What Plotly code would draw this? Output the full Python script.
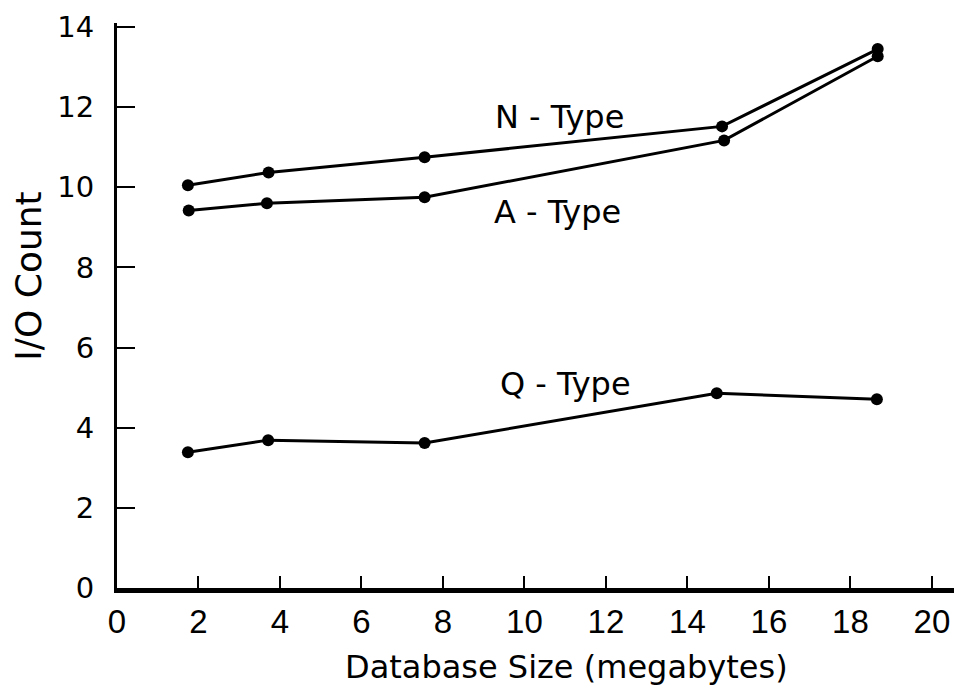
import plotly.graph_objects as go

# Database size (megabytes)
n_x = [1.74, 3.72, 7.55, 14.85, 18.67]
n_y = [10.05, 10.37, 10.75, 11.52, 13.45]
a_x = [1.76, 3.68, 7.55, 14.9, 18.67]
a_y = [9.42, 9.6, 9.75, 11.17, 13.27]
q_x = [1.74, 3.71, 7.55, 14.72, 18.65]
q_y = [3.39, 3.69, 3.62, 4.86, 4.71]

labels = ["N - Type", "A - Type", "Q - Type"]
label_x = [10.85, 10.8, 11.0]
label_y = [11.75, 9.38, 5.1]

x_title = "Database Size (megabytes)"
y_title = "I/O Count"

x_ticks = list(range(0, 21, 2))
y_ticks = list(range(0, 15, 2))

FONT = "DejaVu Sans, Liberation Sans, Arial"

fig = go.Figure()
for xs, ys, name in [(n_x, n_y, labels[0]), (a_x, a_y, labels[1]), (q_x, q_y, labels[2])]:
    fig.add_trace(go.Scatter(
        x=xs, y=ys, mode="lines+markers", name=name,
        line=dict(color="black", width=3),
        marker=dict(color="black", size=12),
        showlegend=False,
    ))

for t, lx, ly in zip(labels, label_x, label_y):
    fig.add_annotation(x=lx, y=ly, text=t, showarrow=False,
                       font=dict(family=FONT, size=32, color="black"))

# axis titles placed as in the original (offset from the plot centre)
fig.add_annotation(xref="paper", yref="paper", x=0.533, y=-0.14,
                   xanchor="center", yanchor="middle", text=x_title, showarrow=False,
                   font=dict(family=FONT, size=32, color="black"))
fig.add_annotation(xref="paper", yref="paper", x=-0.106, y=0.552,
                   xanchor="center", yanchor="middle", text=y_title, showarrow=False,
                   textangle=-90, font=dict(family=FONT, size=36, color="black"))

# page body has an 8px default margin; figure sized to fit the 962x696 window
fig.update_layout(
    width=954, height=688,
    margin=dict(l=109, r=2, t=15, b=108),
    plot_bgcolor="white", paper_bgcolor="white",
    font=dict(family=FONT, color="black"),
)
fig.update_xaxes(
    range=[0, 20.69], tickvals=x_ticks, ticktext=[str(v) for v in x_ticks],
    showgrid=False, zeroline=False, automargin=False,
    showline=True, linecolor="black", linewidth=5,
    ticks="inside", ticklen=12, tickwidth=1.5, tickcolor="black",
    ticklabelstandoff=0,
    tickfont=dict(family="Liberation Sans, Arial", size=33),
)
fig.update_yaxes(
    range=[0, 14.1], tickvals=y_ticks, ticktext=[str(v) for v in y_ticks],
    showgrid=False, zeroline=False, automargin=False,
    showline=True, linecolor="black", linewidth=3,
    ticks="inside", ticklen=18, tickwidth=2, tickcolor="black",
    ticklabelstandoff=14,
    tickfont=dict(family=FONT, size=29),
)

fig.write_html("out.html")
